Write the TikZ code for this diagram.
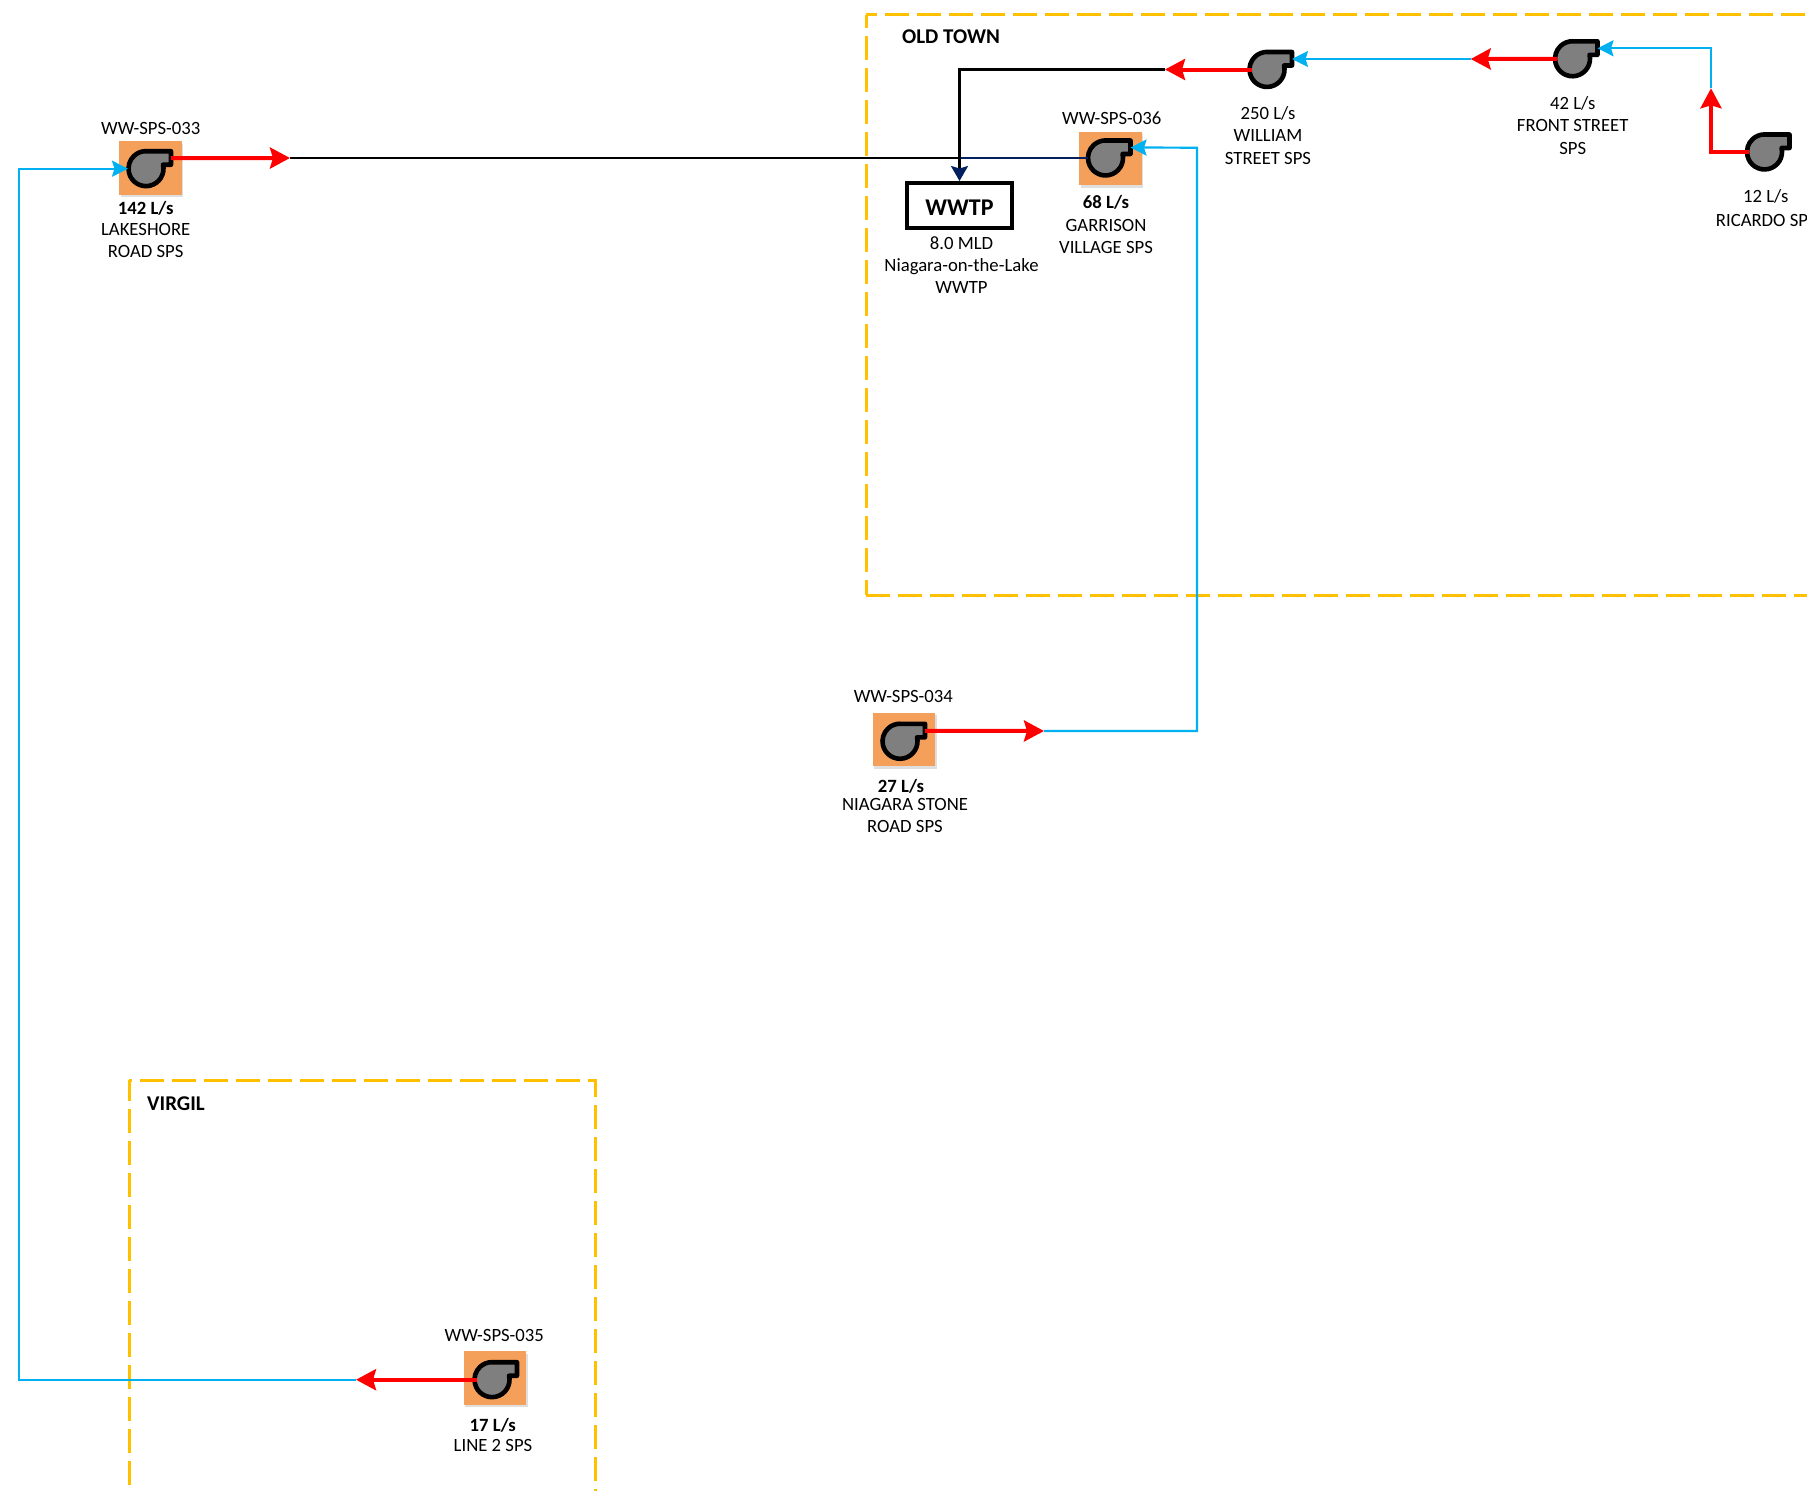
\documentclass[tikz,border=0pt]{standalone}
\usepackage{fontspec}
\setmainfont{Carlito}
\usetikzlibrary{arrows.meta,positioning,shadows}
\definecolor{zonec}{HTML}{FFC000}
\definecolor{padc}{HTML}{F5A05A}
\definecolor{bluec}{HTML}{00B0F0}
\definecolor{navyc}{HTML}{002060}
\definecolor{redc}{HTML}{FF0000}
\definecolor{bodyc}{HTML}{7F7F7F}
\tikzset{
	zone/.style={draw=zonec,line width=3pt,dash pattern=on 24pt off 8pt},
	pad/.style={fill=padc,minimum width=62.5pt,minimum height=53.5pt,inner sep=0pt,
		drop shadow={shadow xshift=1.5pt,shadow yshift=-2.5pt,opacity=.25}},
	lab/.style={font=\fontsize{18.7}{22.3}\selectfont,align=center,inner sep=0pt},
	flow/.style={font=\fontsize{18.7}{22}\selectfont\bfseries,inner sep=0pt},
	zonelab/.style={font=\fontsize{21}{24}\selectfont\bfseries,inner sep=0pt},
	plant/.style={draw,line width=4pt,minimum width=105pt,minimum height=45pt,inner sep=0pt,
		text height=19pt,text depth=0pt,font=\fontsize{24}{28}\selectfont\bfseries},
	rd/.style={draw=redc,line width=4pt,-{Stealth[length=20pt,width=21pt,inset=3pt]}},
	bl/.style={draw=bluec,line width=2.2pt,-{Stealth[length=16pt,width=16pt,inset=2.5pt]}},
	pump/.pic={
		\draw[fill=bodyc,line width=4.6pt,line join=round,y=1pt] (0,17.5) -- (25,17.5) -- (25,4)
			-- (17.05,4) arc[start angle=13,end angle=-270,radius=17.5pt] -- cycle;
		\coordinate (-west) at (-15.5,0);
		\coordinate (-rim) at (-18,0);
		\coordinate (-nose) at (25,-10.5);
	}
}
\begin{document}
\begin{tikzpicture}[x=1pt,y=-1pt]
	\useasboundingbox (0,0) rectangle (1807,1491);

	\draw[zone,dash phase=13pt] (866,14.7) -- (1807,14.7);
	\draw[zone,dash phase=10.7pt] (866,14.7) -- (866,595);
	\draw[zone] (866,595) -- (1807,595);
	\draw[zone,dash phase=21pt] (129.3,1080) -- (595,1080) -- (595,1491);
	\draw[zone,dash phase=3.3pt] (129.3,1080) -- (129.3,1491);

	\draw (150.5,168) node [pad] (s33){};
	\draw (904,739.5) node [pad] (s34){};
	\draw (495,1378) node [pad] (s35){};
	\draw (1110.5,158.5) node [pad] (s36){};

	\draw (146,168.7) pic (p33) {pump};
	\draw (900,741.3) pic (p34) {pump};
	\draw (492,1379.7) pic (p35) {pump};
	\draw (1105.5,158) pic (p36) {pump};
	\draw (1267,69.5) pic (pw) {pump};
	\draw (1572.5,58.8) pic (pf) {pump};
	\draw (1764.5,152) pic (pr) {pump};

	\draw (959.5,205.5) node [plant] (wwtp){WWTP};

	\coordinate (t33) at (290,158);
	\coordinate (j33) at (959.5,158);
	\coordinate (t34) at (1044,731);
	\coordinate (c36) at (1197,147.7);
	\coordinate (t35) at (356,1379.7);
	\coordinate (c33) at (19,168.7);
	\coordinate (tw) at (1165,69.5);
	\coordinate (tf) at (1470.7,59);
	\coordinate (tr) at (1711,88.3);
	\coordinate (cr) at (1711,48.3);

	\draw[black,line width=2.2pt] (t33) -- (j33);
	\draw[navyc,line width=2.2pt] (j33) -- (p36-rim);
	\draw[line width=2.2pt,-{Stealth[length=15pt,width=17pt,inset=2.5pt,color=navyc]}] (tw) -| (wwtp.north);
	\draw[bl] (t34) -| (c36) -- (p36-nose);
	\draw[bl] (t35) -| (c33) -- (p33-rim);
	\draw[bl] (tf) -- (pw-nose);
	\draw[bl] (tr) -- (cr) -- (pf-nose);

	\draw[rd] (p33-nose) -- (t33);
	\draw[rd] (p34-nose) -- (t34);
	\draw[rd] (p35-west) -- (t35);
	\draw[rd] (pw-west) -- (tw);
	\draw[rd] (pf-west) -- (tf);
	\draw[rd] (pr-west) -| (tr);

	\draw (951,37) node [zonelab] (oldtown){OLD TOWN};
	\draw (176,1104) node [zonelab] (virgil){VIRGIL};

	\draw (150.7,128.3) node [lab] (id33){WW-SPS-033};
	\draw (145.7,208.3) node [flow] (f33){142 L/s};
	\draw (145.7,240.6) node [lab] (n33){LAKESHORE\\ROAD SPS};

	\draw (903.3,696.7) node [lab] (id34){WW-SPS-034};
	\draw (901,786.7) node [flow] (f34){27 L/s};
	\draw (905,815.6) node [lab] (n34){NIAGARA STONE\\ROAD SPS};

	\draw (494.3,1335) node [lab] (id35){WW-SPS-035};
	\draw (492.7,1425.7) node [flow] (f35){17 L/s};
	\draw (493,1445.3) node [lab] (n35){LINE 2 SPS};

	\draw (1111.7,118) node [lab] (id36){WW-SPS-036};
	\draw (1106,202) node [flow] (f36){68 L/s};
	\draw (1106,236.6) node [lab] (n36){GARRISON\\VILLAGE SPS};

	\draw (961.5,265) node [lab] (nwwtp){8.0 MLD\\Niagara-on-the-Lake\\WWTP};

	\draw (1268,135.5) node [lab] (nw){250 L/s\\WILLIAM\\STREET SPS};
	\draw (1572.7,125.5) node [lab] (nf){42 L/s\\FRONT STREET\\SPS};
	\draw (1765.7,196.7) node [lab] (fr){12 L/s};
	\draw (1715.7,220) node [lab,anchor=west] (nr){RICARDO SP};
\end{tikzpicture}
\end{document}
